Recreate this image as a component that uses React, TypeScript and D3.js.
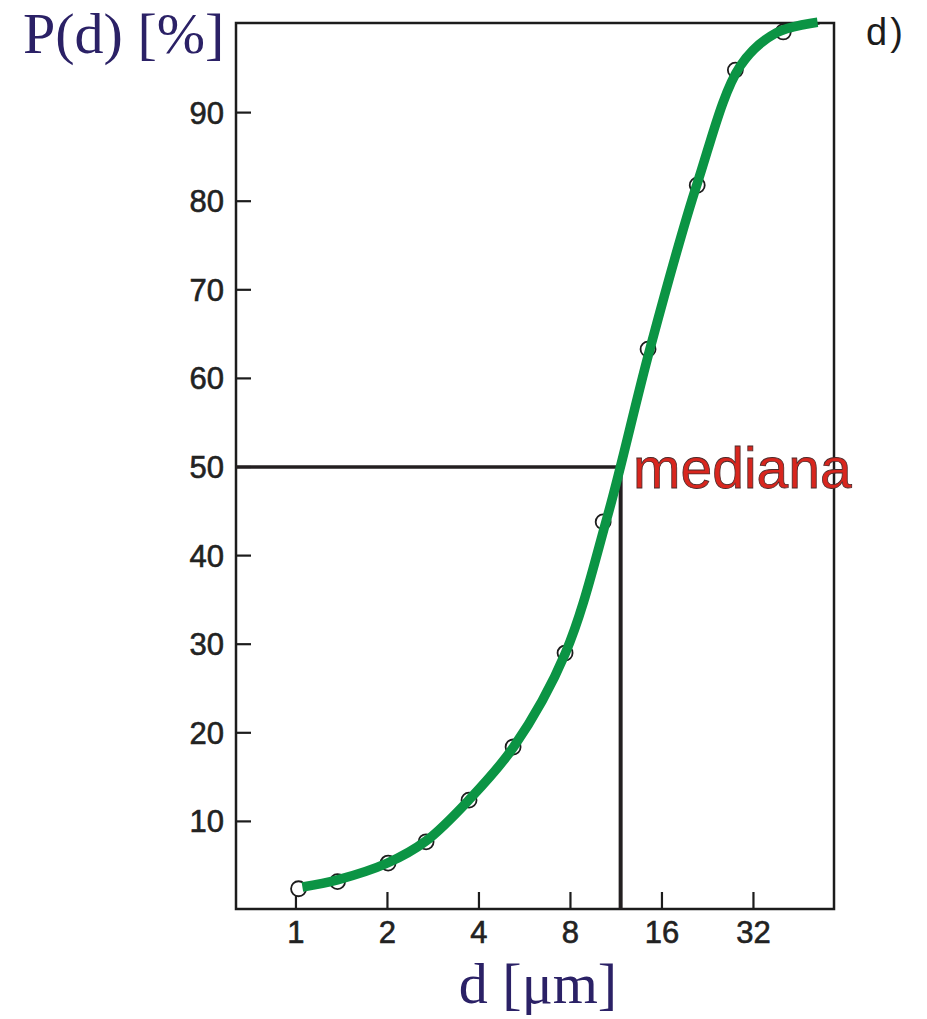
import React from "react";
import * as d3 from "d3";

// measured points (circles)
const sizes = [1.02, 1.37, 2.01, 2.68, 3.71, 5.18, 7.68, 10.25, 14.4, 20.9, 27.9, 40.1];
const percents = [2.4, 3.2, 5.3, 7.7, 12.4, 18.4, 29.0, 43.8, 63.3, 81.8, 94.8, 99.1];

// fitted curve (green)
const fitSizes = [1.05, 1.37, 2.0, 2.68, 3.7, 5.2, 7.7, 10.6, 14.6, 20.9, 29, 38, 52];
const fitPercents = [2.6, 3.4, 5.3, 7.8, 12.4, 18.4, 29, 44.5, 63.3, 82, 95.3, 99.0, 100.2];

const xTicks = [1, 2, 4, 8, 16, 32];
const yTicks = [10, 20, 30, 40, 50, 60, 70, 80, 90];
const median = 11.7;

const W = 927;
const H = 1019;
const left = 236, right = 834, top = 23, bottom = 909;

const App = () => {
  const x = d3.scaleLog().base(2).domain([0.635, 58.9]).range([left, right]);
  const y = d3.scaleLinear().domain([0, 100]).range([910, 24]);

  const fit = fitSizes.map((d, i) => [x(d), y(fitPercents[i])] as [number, number]);
  const line = d3.line().curve(d3.curveCatmullRom.alpha(0.5));
  const path = line(fit) || "";

  const tickFont = "'Liberation Sans', Arial, sans-serif";

  return (
    <svg width={W} height={H} style={{ position: "absolute", left: 0, top: 0, background: "#fff" }}>
      {/* frame */}
      <rect x={left} y={top} width={right - left} height={bottom - top}
        fill="none" stroke="#1c1c1c" strokeWidth={2.5} />

      {/* y ticks */}
      {yTicks.map(t => (
        <g key={t}>
          <line x1={left} x2={left + 15} y1={y(t)} y2={y(t)} stroke="#1c1c1c" strokeWidth={2.2} />
          <text x={224} y={y(t) + 11} textAnchor="end" fontFamily={tickFont} fontSize={31}
            fill="#222" stroke="#222" strokeWidth={0.6}>{t}</text>
        </g>
      ))}

      {/* x ticks */}
      {xTicks.map(t => (
        <g key={t}>
          <line x1={x(t)} x2={x(t)} y1={bottom} y2={bottom - 17} stroke="#1c1c1c" strokeWidth={2.2} />
          <text x={x(t)} y={943} textAnchor="middle" fontFamily={tickFont} fontSize={31}
            fill="#222" stroke="#222" strokeWidth={0.6}>{t}</text>
        </g>
      ))}

      {/* median lines */}
      <line x1={left} x2={x(median)} y1={y(50)} y2={y(50)} stroke="#231f20" strokeWidth={3.5} />
      <line x1={x(median)} x2={x(median)} y1={y(50)} y2={bottom} stroke="#231f20" strokeWidth={4} />

      {/* data circles */}
      {sizes.map((d, i) => (
        <circle key={i} cx={x(d)} cy={y(percents[i])} r={7.5} fill="#fff" stroke="#1c1c1c" strokeWidth={1.8} />
      ))}

      {/* original thin fit */}
      <path d={path} fill="none" stroke="#1c1c1c" strokeWidth={2.5} transform="translate(2,1)" />
      {/* green fit */}
      <path d={path} fill="none" stroke="#0b9444" strokeWidth={9.5} strokeLinecap="butt" />

      {/* labels */}
      <text x={23} y={53} fontFamily="'Liberation Serif', 'Times New Roman', serif" fontSize={58} fill="#2b2166">P(d) [%]</text>
      <text x={538} y={1003} textAnchor="middle" fontFamily="'Liberation Serif', 'Times New Roman', serif" fontSize={58} fill="#2b2166">d [μm]</text>
      <text x={633} y={488} fontFamily={tickFont} fontSize={57} fill="#d8261e" stroke="#4a2a2a" strokeWidth={0.8}>mediana</text>
      <text x={866} y={45} fontFamily={tickFont} fontSize={38} fill="#1c1c1c" letterSpacing={3}>d)</text>
    </svg>
  );
};

export default App;
